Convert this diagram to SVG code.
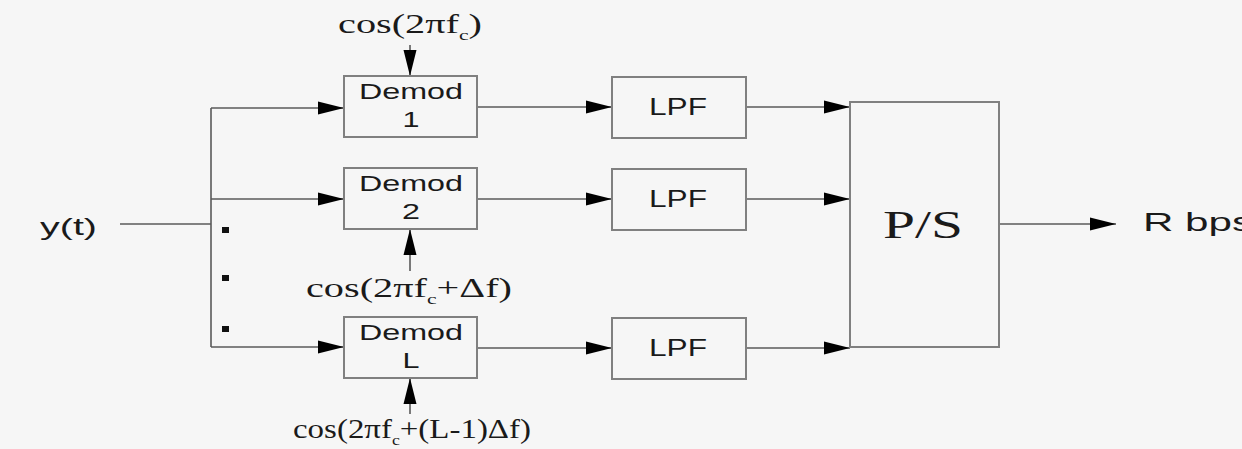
<svg xmlns="http://www.w3.org/2000/svg" width="1242" height="449" viewBox="0 0 1242 449">
<style>
.bg{fill:#f6f6f6}
.box{fill:#f6f6f6;stroke:#808080;stroke-width:2}
.ln{fill:none;stroke:#5a5a5a;stroke-width:1.6}
.sans{font-family:"Liberation Sans",Arial,sans-serif;fill:#1a1a1a}
.serif{font-family:"Liberation Serif","Times New Roman",serif;fill:#1a1a1a}
.dot{fill:#111}
</style>
<defs>
<marker id="ah" markerUnits="userSpaceOnUse" markerWidth="27" markerHeight="14" refX="26" refY="7" orient="auto">
<path d="M0,0.5 L26,7 L0,13.5 z" fill="#000"/>
</marker>
</defs>
<rect class="bg" x="0" y="0" width="1242" height="449"/>
<g id="connectors">
<path class="ln" d="M120,224 H211"/>
<path class="ln" d="M211,108 V347"/>
<path class="ln" d="M211,108 H344" marker-end="url(#ah)"/>
<path class="ln" d="M211,199 H344" marker-end="url(#ah)"/>
<path class="ln" d="M211,347 H344" marker-end="url(#ah)"/>
<path class="ln" d="M410,45 V76" marker-end="url(#ah)"/>
<path class="ln" d="M410,271 V229" marker-end="url(#ah)"/>
<path class="ln" d="M410,414 V378" marker-end="url(#ah)"/>
<path class="ln" d="M477,107 H612" marker-end="url(#ah)"/>
<path class="ln" d="M477,199 H612" marker-end="url(#ah)"/>
<path class="ln" d="M477,348 H612" marker-end="url(#ah)"/>
<path class="ln" d="M746,107 H850" marker-end="url(#ah)"/>
<path class="ln" d="M746,199 H850" marker-end="url(#ah)"/>
<path class="ln" d="M746,348 H850" marker-end="url(#ah)"/>
<path class="ln" d="M999,224 H1116" marker-end="url(#ah)"/>
</g>
<g id="dots">
<rect class="dot" x="222" y="227" width="7" height="6"/>
<rect class="dot" x="222" y="275" width="7" height="6"/>
<rect class="dot" x="222" y="326" width="7" height="6"/>
</g>
<g id="input">
<text class="sans" x="40" y="235" font-size="24" textLength="57" lengthAdjust="spacingAndGlyphs">y(t)</text>
</g>
<g id="demod1">
<rect class="box" x="344" y="76" width="133" height="61"/>
<text class="sans" x="411" y="99" font-size="22" text-anchor="middle" textLength="104" lengthAdjust="spacingAndGlyphs">Demod</text>
<text class="sans" x="411" y="127" font-size="22" text-anchor="middle" textLength="17" lengthAdjust="spacingAndGlyphs">1</text>
</g>
<g id="demod2">
<rect class="box" x="344" y="168" width="133" height="61"/>
<text class="sans" x="411" y="191" font-size="22" text-anchor="middle" textLength="104" lengthAdjust="spacingAndGlyphs">Demod</text>
<text class="sans" x="411" y="219" font-size="22" text-anchor="middle" textLength="18" lengthAdjust="spacingAndGlyphs">2</text>
</g>
<g id="demodL">
<rect class="box" x="344" y="317" width="133" height="61"/>
<text class="sans" x="411" y="340" font-size="22" text-anchor="middle" textLength="104" lengthAdjust="spacingAndGlyphs">Demod</text>
<text class="sans" x="411" y="368" font-size="22" text-anchor="middle" textLength="17" lengthAdjust="spacingAndGlyphs">L</text>
</g>
<g id="cos1">
<text class="serif" x="338" y="33" font-size="28" textLength="144" lengthAdjust="spacingAndGlyphs">cos(2πf<tspan font-size="15" dy="7">c</tspan><tspan dy="-7">)</tspan></text>
</g>
<g id="cos2">
<text class="serif" x="306" y="297" font-size="28" textLength="206" lengthAdjust="spacingAndGlyphs">cos(2πf<tspan font-size="15" dy="7">c</tspan><tspan dy="-7">+Δf)</tspan></text>
</g>
<g id="cosL">
<text class="serif" x="293" y="438" font-size="28" textLength="238" lengthAdjust="spacingAndGlyphs">cos(2πf<tspan font-size="15" dy="7">c</tspan><tspan dy="-7">+(L-1)Δf)</tspan></text>
</g>
<g id="lpf1">
<rect class="box" x="612" y="77" width="134" height="61"/>
<text class="sans" x="678" y="115" font-size="24" text-anchor="middle" textLength="58" lengthAdjust="spacingAndGlyphs">LPF</text>
</g>
<g id="lpf2">
<rect class="box" x="612" y="169" width="134" height="61"/>
<text class="sans" x="678" y="207" font-size="24" text-anchor="middle" textLength="58" lengthAdjust="spacingAndGlyphs">LPF</text>
</g>
<g id="lpf3">
<rect class="box" x="612" y="318" width="134" height="61"/>
<text class="sans" x="678" y="356" font-size="24" text-anchor="middle" textLength="58" lengthAdjust="spacingAndGlyphs">LPF</text>
</g>
<g id="ps">
<rect class="box" x="850" y="102" width="149" height="245"/>
<text class="serif" x="923" y="238" font-size="40" text-anchor="middle" textLength="80" lengthAdjust="spacingAndGlyphs">P/S</text>
</g>
<g id="output">
<text class="sans" x="1143" y="231" font-size="26" textLength="110" lengthAdjust="spacingAndGlyphs">R bps</text>
</g>
</svg>
